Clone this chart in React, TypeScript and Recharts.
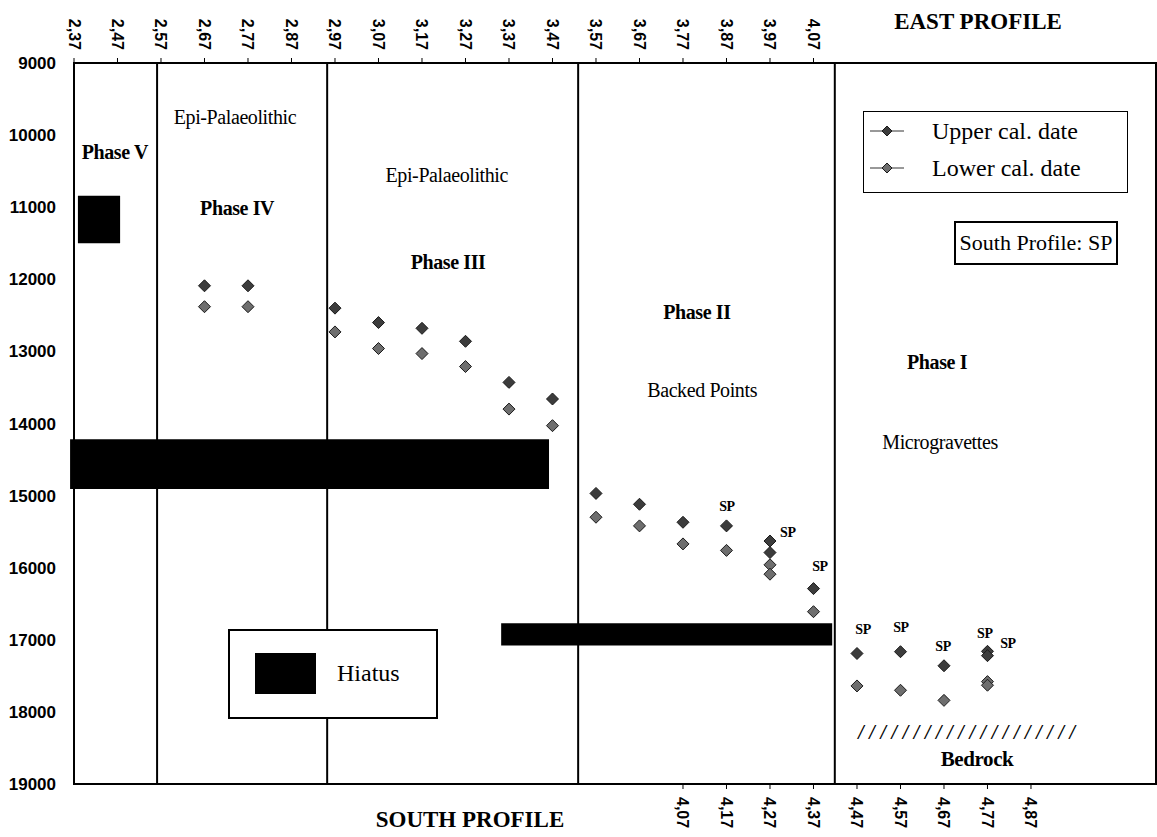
import React from 'react';
import {
  ScatterChart, Scatter, XAxis, YAxis, ReferenceLine, ReferenceArea, ReferenceDot, Legend,
} from 'recharts';

// top axis (east profile) and bottom axis (south profile) ticks, in metres
const eastTicks = [2.37, 2.47, 2.57, 2.67, 2.77, 2.87, 2.97, 3.07, 3.17, 3.27, 3.37, 3.47, 3.57, 3.67, 3.77, 3.87, 3.97, 4.07];
const southTicks = [4.07, 4.17, 4.27, 4.37, 4.47, 4.57, 4.67, 4.77, 4.87];
const dateTicks = [9000, 10000, 11000, 12000, 13000, 14000, 15000, 16000, 17000, 18000, 19000];

// samples: depth position and calibrated dates (cal BP)
const samplePositions = [2.67, 2.77, 2.97, 3.07, 3.17, 3.27, 3.37, 3.47, 3.57, 3.67, 3.77, 3.87, 3.97, 3.97, 4.07, 4.17, 4.27, 4.37, 4.47, 4.47];
const upperCalDates = [12090, 12090, 12400, 12600, 12680, 12860, 13430, 13660, 14970, 15120, 15370, 15420, 15630, 15790, 16290, 17190, 17165, 17360, 17160, 17220];
const lowerCalDates = [12380, 12380, 12730, 12960, 13030, 13210, 13800, 14030, 15300, 15420, 15670, 15760, 15960, 16090, 16610, 17640, 17700, 17840, 17580, 17630];

// phase boundaries and hiatus blocks
const phaseBoundaries = [2.561, 2.952, 3.529, 4.119];
const hiatusFrom = [2.361, 2.379, 3.352];
const hiatusTo = [3.462, 2.476, 4.113];
const hiatusYoung = [14220, 10840, 16770];
const hiatusOld = [14910, 11500, 17080];

const X_MIN = 2.37;
const X_MAX = 4.8574;
const SOUTH_SHIFT = 0.3;

const serif = '"Liberation Serif", "Times New Roman", serif';
const sans = '"Liberation Sans", Arial, sans-serif';

const annotations = [
  { x: 2.464, y: 10234, text: 'Phase V', bold: true, size: 20 },
  { x: 2.74, y: 9749, text: 'Epi-Palaeolithic', bold: false, size: 20 },
  { x: 2.745, y: 11011, text: 'Phase IV', bold: true, size: 20 },
  { x: 3.227, y: 10553, text: 'Epi-Palaeolithic', bold: false, size: 20 },
  { x: 3.23, y: 11760, text: 'Phase III', bold: true, size: 20 },
  { x: 3.802, y: 12454, text: 'Phase II', bold: true, size: 20 },
  { x: 3.814, y: 13535, text: 'Backed Points', bold: false, size: 20 },
  { x: 4.354, y: 13147, text: 'Phase I', bold: true, size: 20 },
  { x: 4.361, y: 14257, text: 'Microgravettes', bold: false, size: 20 },
  { x: 4.446, y: 18653, text: 'Bedrock', bold: true, size: 21 },
];

const spLabels = [
  { x: 3.871, y: 15158 }, { x: 4.011, y: 15505 }, { x: 4.085, y: 15990 },
  { x: 4.184, y: 16864 }, { x: 4.271, y: 16836 }, { x: 4.368, y: 17086 },
  { x: 4.464, y: 16906 }, { x: 4.517, y: 17045 },
];

const seriesNames = ['Upper cal. date', 'Lower cal. date'];
const seriesColors = ['#3c3c3c', '#6e6e6e'];

const comma = (v: number) => v.toFixed(2).replace('.', ',');

const EastTick = ({ x, y, payload }: any) => (
  <text x={x} y={y} transform={`rotate(90, ${x}, ${y})`} textAnchor="end" dominantBaseline="central"
    fontFamily={sans} fontWeight="bold" fontSize={16} fill="#000">{comma(payload.value)}</text>
);

const SouthTick = ({ x, y, payload }: any) => (
  <text x={x} y={y} transform={`rotate(90, ${x}, ${y})`} textAnchor="start" dominantBaseline="central"
    fontFamily={sans} fontWeight="bold" fontSize={16} fill="#000">{comma(payload.value + SOUTH_SHIFT)}</text>
);

const diamond = (fill: string) => (props: any) => {
  const { cx, cy } = props;
  if (cx == null || cy == null) return <g />;
  const r = 6;
  return <path d={`M${cx},${cy - r}L${cx + r},${cy}L${cx},${cy + r}L${cx - r},${cy}Z`} fill={fill} stroke="#1a1a1a" strokeWidth={1} />;
};

const textShape = (text: string, bold: boolean, size: number) => (props: any) => (
  <text x={props.cx} y={props.cy} textAnchor="middle" dominantBaseline="central" fontFamily={serif}
    fontWeight={bold ? 'bold' : 'normal'} fontSize={size} fill="#000" letterSpacing={-0.4}>{text}</text>
);

const LegendBox = () => (
  <div style={{ width: 265, height: 82, border: '1px solid #000', background: '#fff', boxSizing: 'border-box', position: 'relative' }}>
    {seriesNames.map((name, i) => (
      <div key={name} style={{ position: 'absolute', left: 0, top: i === 0 ? 4 : 41, height: 30, display: 'flex', alignItems: 'center' }}>
        <svg width={60} height={30}>
          <line x1={6} x2={40} y1={15} y2={15} stroke="#333" strokeWidth={1} />
          <path d="M23,10L28,15L23,20L18,15Z" fill={seriesColors[i]} stroke="#1a1a1a" />
        </svg>
        <span style={{ marginLeft: 8, fontFamily: serif, fontSize: 24, lineHeight: '30px' }}>{name}</span>
      </div>
    ))}
  </div>
);

const upperData = samplePositions.map((x, i) => ({ x, y: upperCalDates[i] }));
const lowerData = samplePositions.map((x, i) => ({ x, y: lowerCalDates[i] }));

export default function App() {
  return (
    <div style={{ position: 'absolute', left: 0, top: 0, width: 1157, height: 837, background: '#fff' }}>
      <ScatterChart width={1157} height={837} margin={{ top: 0, right: 1, bottom: 0, left: 0 }}>
        <XAxis xAxisId={0} type="number" dataKey="x" orientation="top" height={63} domain={[X_MIN, X_MAX]}
          allowDataOverflow ticks={eastTicks} interval={0} tick={<EastTick />} tickSize={5} tickMargin={8}
          axisLine={{ stroke: '#000', strokeWidth: 2 }} tickLine={{ stroke: '#000' }} />
        <XAxis xAxisId="south" type="number" dataKey="x" orientation="bottom" height={53}
          domain={[X_MIN, X_MAX]} allowDataOverflow ticks={southTicks.map(t => +(t - SOUTH_SHIFT).toFixed(2))} interval={0}
          tick={<SouthTick />} tickSize={5} tickMargin={8}
          axisLine={{ stroke: '#000', strokeWidth: 2 }} tickLine={{ stroke: '#000' }} />
        <YAxis type="number" dataKey="y" width={74} domain={[9000, 19000]} reversed allowDataOverflow
          ticks={dateTicks} interval={0} tickLine={false} tickMargin={12}
          axisLine={{ stroke: '#000', strokeWidth: 2 }}
          tick={{ fontFamily: sans, fontWeight: 'bold', fontSize: 17, fill: '#000' }} />

        <ReferenceArea x1={X_MIN} x2={X_MAX} y1={9000} y2={19000} fill="none" stroke="#000" strokeWidth={2} ifOverflow="visible" />
        {phaseBoundaries.map(b => (
          <ReferenceLine key={b} x={b} stroke="#000" strokeWidth={2} />
        ))}
        {hiatusFrom.map((x1, i) => (
          <ReferenceArea key={i} x1={x1} x2={hiatusTo[i]} y1={hiatusYoung[i]} y2={hiatusOld[i]}
            fill="#000" fillOpacity={1} stroke="none" ifOverflow="visible" />
        ))}

        {annotations.map((a, i) => (
          <ReferenceDot key={'a' + i} x={a.x} y={a.y} r={0} ifOverflow="visible" shape={textShape(a.text, a.bold, a.size)} />
        ))}
        {spLabels.map((s, i) => (
          <ReferenceDot key={'sp' + i} x={s.x} y={s.y} r={0} ifOverflow="visible" shape={textShape('SP', true, 14)} />
        ))}
        <ReferenceDot x={4.421} y={18279} r={0} ifOverflow="visible" shape={(p: any) => (
          <text x={p.cx - 108} y={p.cy} dominantBaseline="central" fontFamily={serif} fontStyle="italic"
            fontWeight="bold" fontSize={20} textLength={217} lengthAdjust="spacing">{'////////////////////'}</text>
        )} />

        <Scatter name={seriesNames[0]} data={upperData} fill={seriesColors[0]} shape={diamond(seriesColors[0])} isAnimationActive={false} />
        <Scatter name={seriesNames[1]} data={lowerData} fill={seriesColors[1]} shape={diamond(seriesColors[1])} isAnimationActive={false} />

        <Legend layout="horizontal" verticalAlign="middle" align="center" content={<LegendBox />}
          wrapperStyle={{ position: 'absolute', left: 863, top: 111, width: 265, height: 82 }} />
      </ScatterChart>

      <div style={{ position: 'absolute', left: 978, top: 22, transform: 'translate(-50%, -50%)', fontFamily: serif, fontWeight: 'bold', fontSize: 23, whiteSpace: 'nowrap' }}>EAST PROFILE</div>
      <div style={{ position: 'absolute', left: 470, top: 820, transform: 'translate(-50%, -50%)', fontFamily: serif, fontWeight: 'bold', fontSize: 23, whiteSpace: 'nowrap' }}>SOUTH PROFILE</div>

      <div style={{ position: 'absolute', left: 954, top: 221, width: 164, height: 44, border: '2px solid #000', boxSizing: 'border-box', background: '#fff', fontFamily: serif, fontSize: 22, display: 'flex', alignItems: 'center', justifyContent: 'center', whiteSpace: 'nowrap' }}>South Profile: SP</div>

      <div style={{ position: 'absolute', left: 228, top: 629, width: 210, height: 90, border: '2px solid #000', boxSizing: 'border-box', background: '#fff' }}>
        <div style={{ position: 'absolute', left: 25, top: 22, width: 61, height: 41, background: '#000' }} />
        <div style={{ position: 'absolute', left: 107, top: 27, fontFamily: serif, fontSize: 24, lineHeight: '30px' }}>Hiatus</div>
      </div>
    </div>
  );
}
